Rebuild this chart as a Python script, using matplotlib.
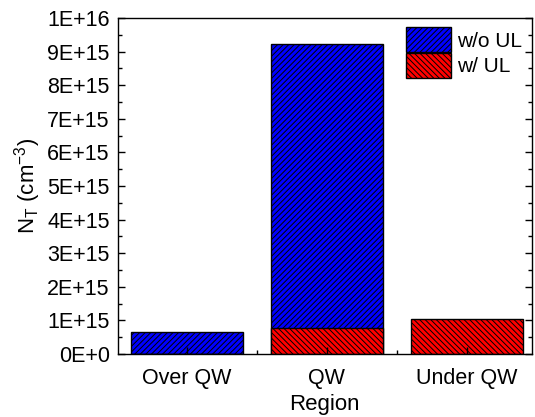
"""Trap density N_T per region, with and without UL."""

import numpy as np
import matplotlib.pyplot as plt
from matplotlib.ticker import FixedLocator, FuncFormatter

regions = ["Over QW", "QW", "Under QW"]
nt_without_ul = [6.6e14, 9.22e15, 0.0]
nt_with_ul = [0.0, 7.8e14, 1.03e15]
y_ticks = np.arange(0, 11) * 1e15


def sci_label(v, _pos):
    if v == 0:
        return "0E+0"
    exp = int(np.floor(np.log10(v) + 1e-9))
    mant = v / 10 ** exp
    return f"{mant:.0f}E+{exp}"


def main() -> None:
    plt.rcParams['font.family'] = ['Liberation Sans', 'DejaVu Sans']
    plt.rcParams['hatch.linewidth'] = 0.7

    fig = plt.figure(figsize=(5.35, 4.17), dpi=100)
    ax = fig.add_axes([0.2206, 0.151, 0.773, 0.806])

    x = np.arange(len(regions))
    plt.rcParams['hatch.color'] = '#000066'
    ax.bar(x, nt_without_ul, width=0.8, color='#0000ff', edgecolor='black',
           linewidth=1.0, hatch='//////', label='w/o UL')
    plt.rcParams['hatch.color'] = '#660000'
    ax.bar(x, nt_with_ul, width=0.8, color='#ff0000', edgecolor='black',
           linewidth=1.0, hatch='\\\\\\\\\\\\', label='w/ UL')

    ax.set_xlim(-0.49, 2.46)
    ax.set_ylim(0, 1e16)
    ax.set_xticks(x)
    ax.set_xticklabels(regions)
    ax.xaxis.set_minor_locator(FixedLocator([0.5, 1.5]))
    ax.set_yticks(y_ticks)
    ax.yaxis.set_minor_locator(FixedLocator(y_ticks[:-1] + 5e14))
    ax.yaxis.set_major_formatter(FuncFormatter(sci_label))

    ax.tick_params(which='both', direction='in', labelsize=15.5, width=1.0)
    ax.tick_params(axis='y', which='both', right=True, pad=6)
    ax.tick_params(axis='x', which='both', pad=10)
    ax.tick_params(which='major', length=5)
    ax.tick_params(which='minor', length=3)
    for s in ax.spines.values():
        s.set_linewidth(1.0)

    ax.set_xlabel("Region", fontsize=16, labelpad=4)
    ax.set_ylabel("N$_\\mathregular{T}$ (cm$^\\mathregular{-3}$)", fontsize=16,
                  labelpad=3)

    ax.legend(loc='upper right', fontsize=15, frameon=False,
              handlelength=2.15, handleheight=1.45, handletextpad=0.3,
              labelspacing=0.05, borderaxespad=0.1, borderpad=0.35)

    fig.savefig("out.png", dpi=100)


if __name__ == "__main__":
    main()
